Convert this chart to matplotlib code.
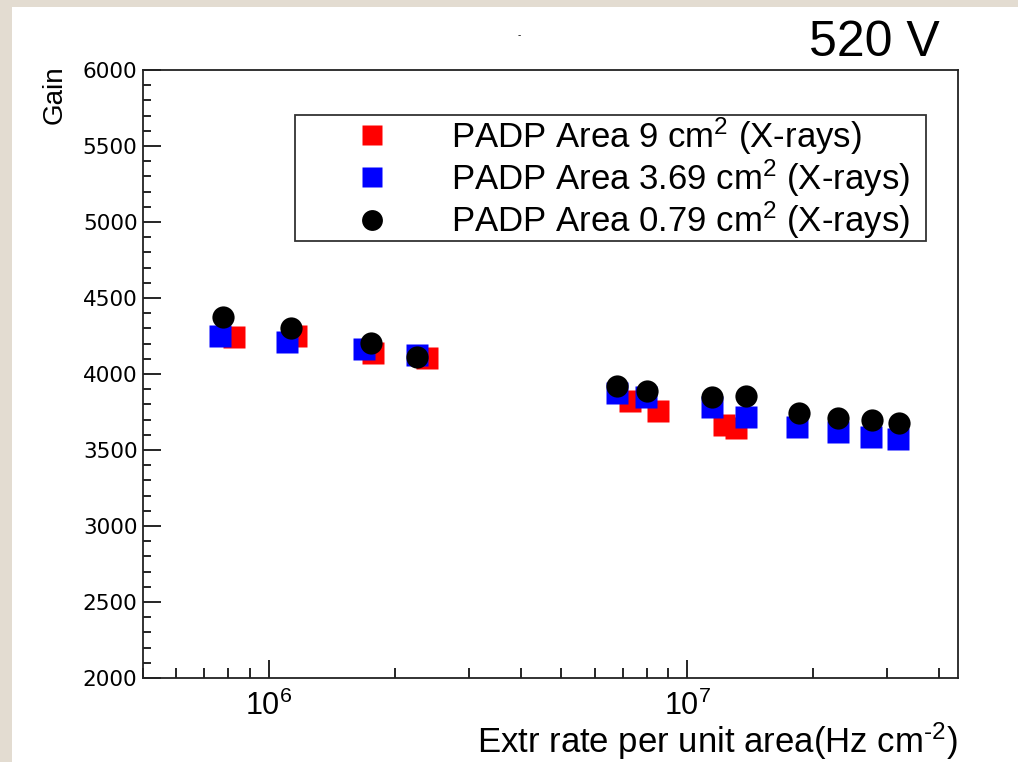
import matplotlib
matplotlib.use("Agg")
import matplotlib.pyplot as plt
from matplotlib.lines import Line2D
from matplotlib.patches import Rectangle
import numpy as np

plt.rcParams['font.family'] = ['Liberation Sans', 'DejaVu Sans']
plt.rcParams['mathtext.fontset'] = 'custom'
plt.rcParams['mathtext.rm'] = 'Liberation Sans'
plt.rcParams['mathtext.it'] = 'Liberation Sans'

# PADP Area 9 cm2
rate_9 = [8.27e5, 1.161e6, 1.771e6, 2.385e6, 7.28e6, 8.48e6, 1.223e7, 1.305e7]
gain_9 = [4241, 4252, 4140, 4103, 3824, 3757, 3664, 3643]

# PADP Area 3.69 cm2
rate_369 = [7.64e5, 1.105e6, 1.685e6, 2.256e6, 6.79e6, 7.98e6, 1.142e7, 1.377e7,
            1.83e7, 2.286e7, 2.747e7, 3.19e7]
gain_369 = [4252, 4213, 4165, 4125, 3873, 3847, 3785, 3715, 3653, 3620, 3588, 3572]

# PADP Area 0.79 cm2
rate_079 = [7.78e5, 1.13e6, 1.755e6, 2.256e6, 6.79e6, 8.0e6, 1.145e7, 1.377e7,
            1.847e7, 2.294e7, 2.755e7, 3.207e7]
gain_079 = [4373, 4301, 4202, 4114, 3921, 3888, 3847, 3855, 3745, 3709, 3697, 3676]

labels = ['PADP Area 9 cm$^{2}$ (X-rays)',
          'PADP Area 3.69 cm$^{2}$ (X-rays)',
          'PADP Area 0.79 cm$^{2}$ (X-rays)']

fig = plt.figure(figsize=(10.18, 7.62), dpi=100)
fig.patch.set_facecolor('#e3dcd1')
fig.patches.append(Rectangle((12 / 1018, 0), 1, 1 - 7 / 762, transform=fig.transFigure,
                             facecolor='white', edgecolor='none', zorder=-5))

ax = fig.add_axes([143 / 1018, 1 - 678 / 762, (958 - 143) / 1018, (678 - 70) / 762])
ax.set_zorder(1)
ms = 16
ax.plot(rate_9, gain_9, 's', color='#ff0000', markersize=ms, mec='none', zorder=3)
ax.plot(rate_369, gain_369, 's', color='#0000ff', markersize=ms, mec='none', zorder=4)
ax.plot(rate_079, gain_079, 'o', color='black', markersize=ms, mec='none', zorder=5)

ax.set_xscale('log')
ax.set_xlim(5e5, 4.43e7)
ax.set_ylim(2000, 6000)
ax.set_yticks(np.arange(2000, 6001, 500))
ax.set_yticks(np.arange(2000, 6001, 100), minor=True)
ax.set_xticks([1e6, 1e7])
ax.set_xticklabels(['$10^{6}$', '$10^{7}$'])
ax.tick_params(axis='both', which='both', direction='in', top=False, right=False, width=1.2)
ax.tick_params(axis='y', which='major', length=13, pad=4, labelsize=15.5,
               labelfontfamily='DejaVu Sans')
ax.tick_params(axis='y', which='minor', length=6)
ax.tick_params(axis='x', which='major', length=13, pad=9, labelsize=22)
ax.tick_params(axis='x', which='minor', length=7, labelbottom=False)
for s in ax.spines.values():
    s.set_linewidth(1.3)
    s.set_color('#222222')

fig.text(958 / 1018, 1 - 741 / 762, r'Extr rate per unit area(Hz cm$^{\text{-2}}$)',
         ha='right', va='center', fontsize=25)
fig.text(55 / 1018, 1 - 65 / 762, 'Gain', rotation=90, ha='center', va='top', fontsize=20)
fig.text(940 / 1018, 1 - 43 / 762, '520 V', ha='right', va='center', fontsize=36)
fig.text(519 / 1018, 1 - 35 / 762, '-', ha='center', va='center', fontsize=7)

handles = [Line2D([], [], ls='none', marker='s', color='#ff0000', markersize=15, mec='none'),
           Line2D([], [], ls='none', marker='s', color='#0000ff', markersize=15, mec='none'),
           Line2D([], [], ls='none', marker='o', color='black', markersize=15, mec='none')]
leg = fig.legend(handles, labels, loc='upper left',
                 bbox_to_anchor=(295 / 1018, 1 - 115 / 762, (926 - 295) / 1018, 0),
                 mode='expand', fontsize=25, frameon=True, fancybox=False,
                 handlelength=4.44, handletextpad=0.06, borderpad=0.0, labelspacing=0.02,
                 borderaxespad=0)
leg.set_zorder(10)
leg.get_frame().set_edgecolor('black')
leg.get_frame().set_linewidth(1.3)

fig.savefig('out.png', dpi=100, facecolor=fig.get_facecolor())
